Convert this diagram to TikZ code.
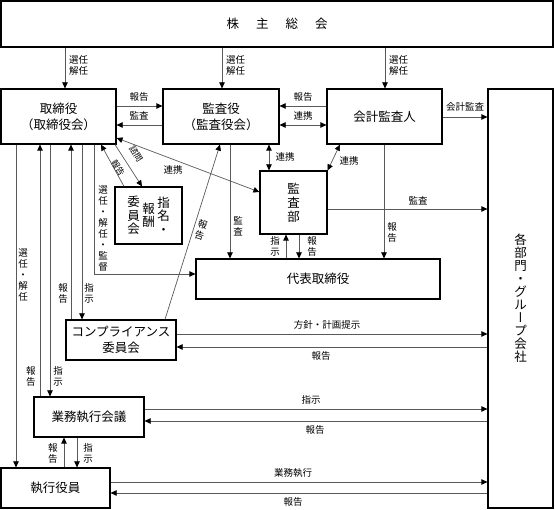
\documentclass[tikz,border=0pt]{standalone}
\usepackage{fontspec}
\setmainfont{Noto Sans CJK JP}
\newfontfamily\vertjp[RawFeature=+vert]{Noto Sans CJK JP}
\usetikzlibrary{arrows.meta}

\begin{document}
\begin{tikzpicture}[x=1pt,y=-1pt,
  >={Triangle[length=6pt,width=5.5pt,color=black]},
  box/.style={draw,line width=1.2pt,inner sep=0pt,align=center,
    font=\fontsize{12.5}{16}\selectfont},
  lbl/.style={inner sep=0pt,align=center,font=\fontsize{9.5}{11}\selectfont},
  arr/.style={->,line width=0.7pt,draw=black!65},
  darr/.style={<->,line width=0.7pt,draw=black!65}]
\useasboundingbox (0,0) rectangle (555,510);

% boxes
\node[box,minimum width=552,minimum height=46] (kabu) at (277,24)
  {株\hspace{17pt}主\hspace{17pt}総\hspace{17pt}会};
\node[box,minimum width=115,minimum height=55] (tori) at (58.5,116.5) {取締役\\（取締役会）};
\node[box,minimum width=116,minimum height=55] (kansayaku) at (221,116.5) {監査役\\（監査役会）};
\node[box,minimum width=115,minimum height=55] (kaikei) at (384.5,116.5) {会計監査人};
\node[box,minimum width=65,minimum height=419,font=\fontsize{12.5}{13}\selectfont] (kakubu) at (520.5,298.5)
  {各\\部\\門\\・\\グ\\ル\\{\vertjp ー}\\プ\\会\\社};
\node[box,minimum width=67,minimum height=57,font=\fontsize{12.5}{13.5}\selectfont] (shimei) at (148.5,215.5)
  {\parbox[c]{13pt}{\centering 委\\員\\会}\hspace{2pt}\parbox[c]{13pt}{\centering 報\\酬}\hspace{2pt}\parbox[c]{13pt}{\centering 指\\名\\・}};
\node[box,minimum width=67,minimum height=63,font=\fontsize{12.5}{14}\selectfont] (kansabu) at (293.5,202.5) {監\\査\\部};
\node[box,minimum width=244,minimum height=40] (daihyo) at (318,279) {代表取締役};
\node[box,minimum width=110,minimum height=40] (comp) at (121,340) {コンプライアンス\\委員会};
\node[box,minimum width=110,minimum height=40] (gyomu) at (89,417) {業務執行会議};
\node[box,minimum width=109,minimum height=40] (shikko) at (55.5,488) {執行役員};

% shareholders meeting
\foreach \nm/\xx in {tori/65, kansayaku/222, kaikei/385} {
  \draw[arr] (kabu.south -| \xx,0) -- (\nm.north -| \xx,0);
  \node[lbl,anchor=west] (sn\xx) at (\xx+4,65.5) {選任\\解任};
}

% top row
\draw[arr] (tori.east |- 0,106) -- (kansayaku.west |- 0,106);
\node[lbl] (l1) at (139,97) {報告};
\draw[arr] (kansayaku.west |- 0,125) -- (tori.east |- 0,125);
\node[lbl] (l2) at (139,116) {監査};
\draw[arr] (kaikei.west |- 0,106) -- (kansayaku.east |- 0,106);
\node[lbl] (l3) at (303,97) {報告};
\draw[darr] (kansayaku.east |- 0,125) -- (kaikei.west |- 0,125);
\node[lbl] (l4) at (303,116) {連携};
\draw[arr] (kaikei.east |- 0,117) -- (kakubu.west |- 0,117);
\node[lbl] (l5) at (465,107) {会計監査};

% audit department
\draw[darr] (kansayaku.south -| 269,0) -- (kansabu.north -| 269,0);
\node[lbl] (l6) at (285,157) {連携};
\draw[darr] (kaikei.south -| 340,0) -- (kansabu.north east);
\node[lbl] (l7) at (349,161) {連携};
\draw[darr] (tori.east |- 0,138) -- (kansabu.west |- 0,192);
\node[lbl] (l8) at (173,170) {連携};
\draw[arr] (kansabu.east |- 0,209) -- (kakubu.west |- 0,209);
\node[lbl] (l9) at (418,201) {監査};

% nomination committee
\draw[arr] (tori.south -| 115,0) -- (shimei.north -| 142,0);
\node[lbl,rotate=-58,font=\fontsize{8.5}{10}\selectfont] (l10) at (136,154) {諮問};
\draw[arr] (shimei.north -| 124,0) -- (tori.south -| 101,0);
\node[lbl,rotate=-58,font=\fontsize{8.5}{10}\selectfont] (l11) at (118,168) {報告};
\draw[arr] (comp.north -| 165,0) -- (kansayaku.south -| 220,0);
\node[lbl,rotate=-17] (l12) at (201,230) {報\\告};

% representative director
\draw[arr] (kansayaku.south -| 230,0) -- (daihyo.north -| 230,0);
\node[lbl] (l13) at (238,226) {監\\査};
\draw[arr] (kaikei.south -| 384,0) -- (daihyo.north -| 384,0);
\node[lbl] (l14) at (392,232) {報\\告};
\draw[arr] (daihyo.north -| 286,0) -- (kansabu.south -| 286,0);
\node[lbl] (l15) at (275,246) {指\\示};
\draw[arr] (kansabu.south -| 299,0) -- (daihyo.north -| 299,0);
\node[lbl] (l16) at (312,246) {報\\告};
\draw[arr] (tori.south -| 94,0) |- (daihyo.west |- 0,274);
\node[lbl] (l17) at (103,229) {選\\任\\・\\解\\任\\・\\監\\督};

% left column
\draw[arr] (tori.south -| 16,0) -- (shikko.north -| 16,0);
\node[lbl] (l18) at (23,275) {選\\任\\・\\解\\任};
\draw[arr] (gyomu.north -| 40,0) -- (tori.south -| 40,0);
\node[lbl] (l19) at (31,376) {報\\告};
\draw[arr] (tori.south -| 50,0) -- (gyomu.north -| 50,0);
\node[lbl] (l20) at (58,376) {指\\示};
\draw[arr] (comp.north -| 71,0) -- (tori.south -| 71,0);
\node[lbl] (l21) at (63,293) {報\\告};
\draw[arr] (tori.south -| 82,0) -- (comp.north -| 82,0);
\node[lbl] (l22) at (89,293) {指\\示};
\draw[arr] (shikko.north -| 64,0) -- (gyomu.south -| 64,0);
\node[lbl] (l23) at (53,453) {報\\告};
\draw[arr] (gyomu.south -| 77,0) -- (shikko.north -| 77,0);
\node[lbl] (l24) at (88,453) {指\\示};

% to the departments
\foreach \nm/\ya/\yb in {comp/334/347, gyomu/409/421, shikko/482/493} {
  \draw[arr] (\nm.east |- 0,\ya) -- (kakubu.west |- 0,\ya);
  \draw[arr] (kakubu.west |- 0,\yb) -- (\nm.east |- 0,\yb);
}
\node[lbl] (l25) at (327,325) {方針・計画提示};
\node[lbl] (l26) at (321,356) {報告};
\node[lbl] (l27) at (311,400) {指示};
\node[lbl] (l28) at (315,430) {報告};
\node[lbl] (l29) at (293,473) {業務執行};
\node[lbl] (l30) at (293,502) {報告};
\end{tikzpicture}
\end{document}
